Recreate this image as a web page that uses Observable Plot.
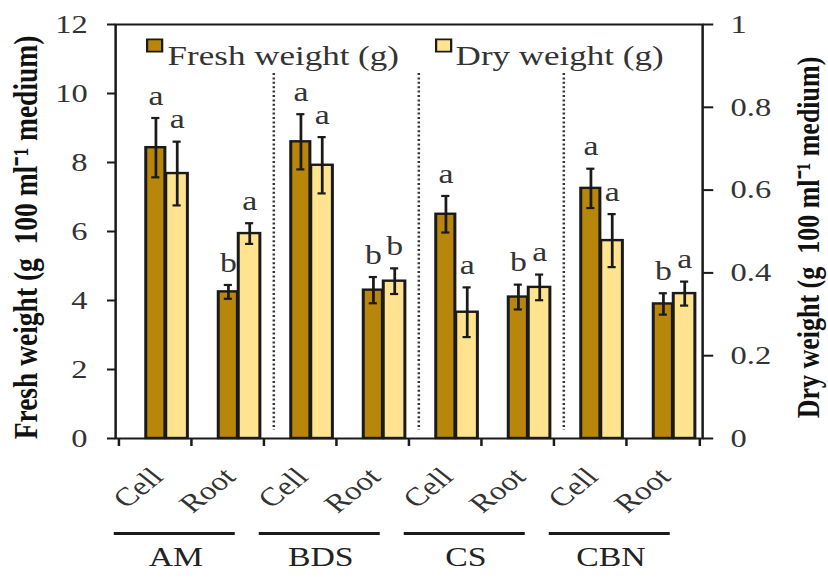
<!DOCTYPE html>
<html><head><meta charset="utf-8">
<script src="https://cdn.jsdelivr.net/npm/d3@7"></script>
<script src="https://cdn.jsdelivr.net/npm/@observablehq/plot@0.6"></script>
<style>
html,body{margin:0;padding:0;background:#fff;}
#chart svg{display:block;}
</style></head><body><div id="chart"></div>
<script>
// ---- data ----
const groups = ["AM", "BDS", "CS", "CBN"];
const parts = ["Cell", "Root"];
const freshMean = [8.43, 4.25, 8.6, 4.3, 6.5, 4.1, 7.25, 3.9];
const freshErr  = [0.86, 0.2, 0.8, 0.38, 0.53, 0.36, 0.57, 0.31];
const dryMean   = [0.64, 0.495, 0.66, 0.38, 0.305, 0.365, 0.478, 0.35];
const dryErr    = [0.077, 0.025, 0.068, 0.031, 0.06, 0.031, 0.064, 0.029];
const freshLetters = ["a", "b", "a", "b", "a", "b", "a", "b"];
const dryLetters   = ["a", "a", "a", "b", "a", "a", "a", "a"];
const yTicks = [0, 2, 4, 6, 8, 10, 12];
const dryTicks = [0, 0.2, 0.4, 0.6, 0.8, 1];
const seriesNames = ["Fresh weight (g)", "Dry weight (g)"];
const leftTitle = "Fresh weight (g  100 ml\u207B\u00B9 medium)";
const rightTitle = "Dry weight (g  100 ml\u207B\u00B9 medium)";

// ---- styling / layout ----
const colors = ["#B8860B", "#FFE38F"];
const FONT = "'Liberation Serif', 'Times New Roman', serif";
const S = 1.25;                 // horizontal stretch of the reference figure
const W = 828 / S, H = 580;
const px = v => v / S;          // horizontal reference px -> inner px
const mL = px(115), mR = px(126), mT = 24, mB = 142;
const bw = (W - mL - mR) / 8;
const RATIO = yTicks[yTicks.length - 1] / dryTicks[dryTicks.length - 1];

const rows = [];
groups.forEach((g, gi) => parts.forEach((p, pi) => {
  const i = gi * 2 + pi;
  rows.push({
    key: g + " " + p, group: g, part: p,
    fresh: freshMean[i], fLo: freshMean[i] - freshErr[i], fHi: freshMean[i] + freshErr[i],
    dry: dryMean[i] * RATIO, dLo: (dryMean[i] - dryErr[i]) * RATIO, dHi: (dryMean[i] + dryErr[i]) * RATIO,
    fl: freshLetters[i], dl: dryLetters[i]
  });
}));
const cellRows = rows.filter(d => d.part === parts[0]);
const sepRows = rows.filter(d => d.part === parts[1] && d.group !== groups[groups.length - 1]);

const ink = "#1a1a1a";
const fC = px(37) - bw / 2, dC = px(58.3) - bw / 2;   // centres of the two bars relative to band centre
const capHalf = px(4.5);

const chart = Plot.plot({
  width: W, height: H,
  marginLeft: mL, marginRight: mR, marginTop: mT, marginBottom: mB,
  style: {fontFamily: FONT, fontSize: "26px", color: "#222", background: "#fff"},
  x: {type: "band", domain: rows.map(d => d.key), padding: 0, axis: null},
  y: {domain: [0, 12], axis: null},
  marks: [
    // bars
    Plot.barY(rows, {x: "key", y: "fresh", fill: colors[0], stroke: ink, strokeWidth: 2.4,
      insetLeft: px(27), insetRight: bw - px(47)}),
    Plot.barY(rows, {x: "key", y: "dry", fill: colors[1], stroke: ink, strokeWidth: 2.4,
      insetLeft: px(47), insetRight: bw - px(69.5)}),
    // error bars
    Plot.ruleX(rows, {x: "key", y1: "fLo", y2: "fHi", dx: fC, stroke: ink, strokeWidth: 2.2}),
    Plot.ruleX(rows, {x: "key", y1: "dLo", y2: "dHi", dx: dC, stroke: ink, strokeWidth: 2.2}),
    ...["fLo", "fHi"].map(k => Plot.tickY(rows, {x: "key", y: k, stroke: ink, strokeWidth: 2.2,
      insetLeft: bw / 2 + fC - capHalf, insetRight: bw / 2 - fC - capHalf})),
    ...["dLo", "dHi"].map(k => Plot.tickY(rows, {x: "key", y: k, stroke: ink, strokeWidth: 2.2,
      insetLeft: bw / 2 + dC - capHalf, insetRight: bw / 2 - dC - capHalf})),
    // significance letters
    Plot.text(rows, {x: "key", y: "fHi", text: "fl", dx: fC, dy: -22, fontSize: 27, fill: "#333"}),
    Plot.text(rows, {x: "key", y: "dHi", text: "dl", dx: dC, dy: -22, fontSize: 27, fill: "#333"}),
    // dotted group separators
    Plot.ruleX(sepRows, {x: "key", dx: bw / 2 + px(9), insetTop: 49, insetBottom: 8,
      stroke: "#333", strokeWidth: 2, strokeDasharray: "2,2.4"}),
    // frame and axes
    Plot.frame({stroke: ink, strokeWidth: 2}),
    Plot.axisY({anchor: "left", ticks: yTicks, tickSize: px(8), tickPadding: px(20), label: null,
      stroke: ink, strokeWidth: 2, fill: "#333"}),
    Plot.axisY({anchor: "right", ticks: dryTicks.map(v => v * RATIO),
      tickFormat: v => String(+(v / RATIO).toFixed(2)), tickSize: px(10), tickPadding: px(18), label: null,
      stroke: ink, strokeWidth: 2, fill: "#333"}),
    // bottom ticks at band edges
    Plot.ruleX(rows, {x: "key", dx: -bw / 2, insetTop: (H - mT - mB) - 8, dy: 8, stroke: ink, strokeWidth: 2}),
    Plot.ruleX(rows.slice(-1), {x: "key", dx: bw / 2, insetTop: (H - mT - mB) - 8, dy: 8, stroke: ink, strokeWidth: 2}),
    // category labels
    Plot.text(rows, {x: "key", text: "part", frameAnchor: "bottom", dx: px(9), dy: 40,
      rotate: -45, textAnchor: "end", lineAnchor: "bottom", fontSize: 26, fill: "#333"}),
    // group underlines and labels
    Plot.ruleY(cellRows, {x1: "key", x2: d => d.group + " " + parts[1], y: () => yTicks[0], dy: 95,
      insetLeft: px(-5), insetRight: px(29), stroke: ink, strokeWidth: 3}),
    Plot.text(cellRows, {x: "key", text: "group", frameAnchor: "bottom", dx: bw / 2 - px(16.5), dy: 127,
      fontSize: 27, fill: "#222"}),
    // legend inside the frame
    ...seriesNames.map((name, i) => Plot.dot([name], {x: null, y: null, frameAnchor: "top-left",
      dx: px(i === 0 ? 39 : 328), dy: 21, symbol: "square", r: 6.8, fill: colors[i], stroke: ink, strokeWidth: 1.8})),
    ...seriesNames.map((name, i) => Plot.text([name], {x: null, y: null, frameAnchor: "top-left", text: d => d,
      dx: px(i === 0 ? 52 : 340), dy: 21, textAnchor: "start", fontSize: 28, fill: "#333"})),
    // axis titles
    Plot.text([leftTitle], {x: null, y: null, frameAnchor: "left", text: d => d, dx: px(25 - 115), dy: 6,
      rotate: -90, textAnchor: "middle", fontSize: 27.5, fontWeight: "bold", fill: "#111"}),
    Plot.text([rightTitle], {x: null, y: null, frameAnchor: "right", text: d => d, dx: px(808 - 702), dy: 6,
      rotate: -90, textAnchor: "middle", fontSize: 26, fontWeight: "bold", fill: "#111"})
  ]
});

chart.setAttribute("viewBox", `0 0 ${W} ${H}`);
chart.setAttribute("preserveAspectRatio", "none");
chart.setAttribute("width", 828);
chart.setAttribute("height", 580);
chart.style.maxWidth = "none";
chart.style.width = "828px";
chart.style.height = "580px";
document.getElementById("chart").append(chart);
</script>
</body></html>
